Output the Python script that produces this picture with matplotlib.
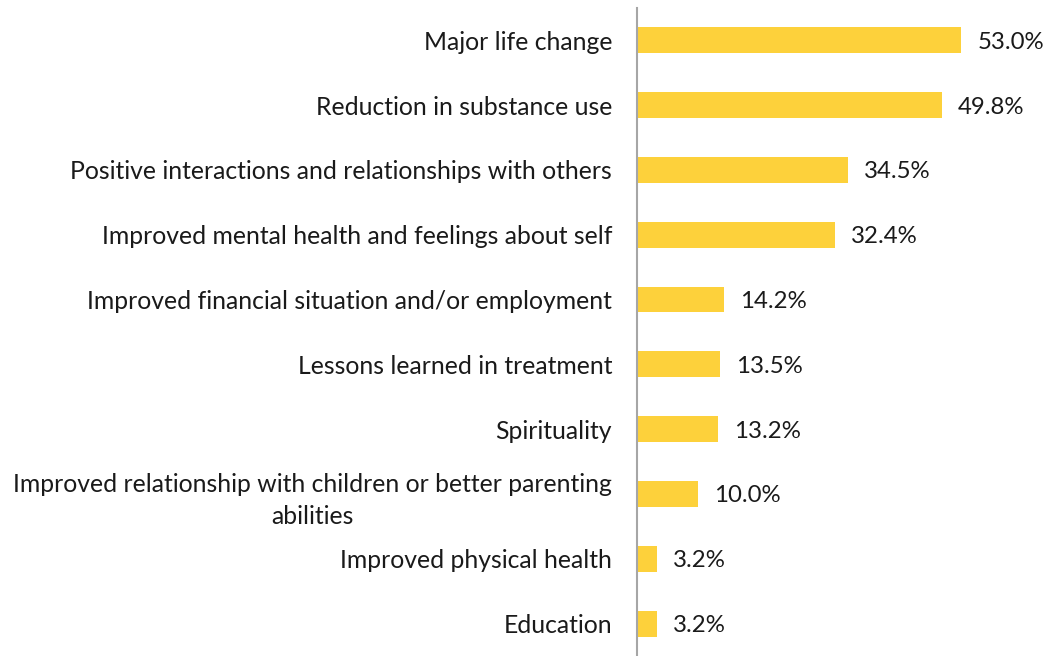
import matplotlib.pyplot as plt

categories = [
    "Major life change",
    "Reduction in substance use",
    "Positive interactions and relationships with others",
    "Improved mental health and feelings about self",
    "Improved financial situation and/or employment",
    "Lessons learned in treatment",
    "Spirituality",
    "Improved relationship with children or better parenting\nabilities",
    "Improved physical health",
    "Education",
]
values = [53.0, 49.8, 34.5, 32.4, 14.2, 13.5, 13.2, 10.0, 3.2, 3.2]

plt.rcParams['font.family'] = ['Lato', 'DejaVu Sans']

fig = plt.figure(figsize=(10.46, 6.56), dpi=100)
ax = fig.add_axes([0.609, 0.0, 0.351, 0.988])

pos = list(range(len(categories)))
ax.barh(pos, values, height=0.4, color='#FDD13B')
for p, v in zip(pos, values):
    ax.text(v + 2.6, p + 0.03, f'{v:.1f}%', va='center', ha='left', fontsize=17.3, color='#1a1a1a')

ax.set_ylim(len(categories) - 0.5, -0.5)
ax.set_xlim(0, 60)
ax.set_yticks(pos)
ax.set_yticklabels(categories, fontsize=17.8, color='#1a1a1a',
                   multialignment='center', linespacing=1.45)
ax.tick_params(axis='y', length=0, pad=18)
ax.set_xticks([])
for side in ['top', 'right', 'bottom']:
    ax.spines[side].set_visible(False)
ax.spines['left'].set_color('#A6A6A6')
ax.spines['left'].set_linewidth(1.5)

fig.savefig('out.png', dpi=100)
